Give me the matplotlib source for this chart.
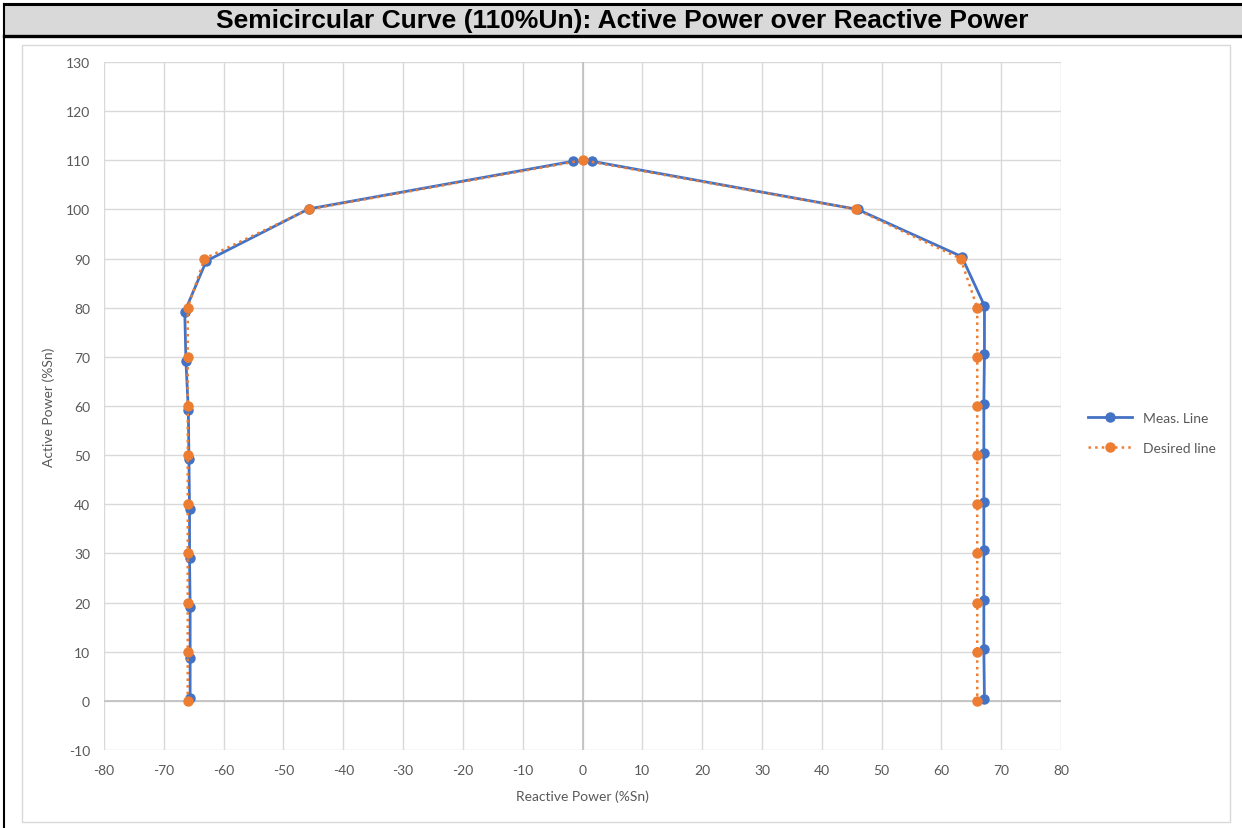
import matplotlib
matplotlib.use('Agg')
import matplotlib.pyplot as plt
from matplotlib.patches import Rectangle
from matplotlib.lines import Line2D

plt.rcParams['axes.unicode_minus'] = False

meas_q = [-65.6, -65.6, -65.6, -65.7, -65.7, -65.8, -65.9, -66.3, -66.5, -62.9, -45.8,
          -1.6, 1.6, 46.0, 63.4, 67.2, 67.2, 67.1, 67.1, 67.1, 67.1, 67.1, 67.1, 67.2]
meas_p = [0.5, 8.8, 19.0, 29.1, 39.1, 49.2, 59.1, 69.1, 79.2, 89.5, 100.1,
          109.8, 109.8, 100.0, 90.4, 80.4, 70.5, 60.5, 50.5, 40.5, 30.6, 20.5, 10.5, 0.3]

# Desired curve
des_q = [-66, -66, -66, -66, -66, -66, -66, -66, -66, -63.2, -45.8,
         0, 45.8, 63.2, 66, 66, 66, 66, 66, 66, 66, 66, 66]
des_p = [0, 10, 20, 30, 40, 50, 60, 70, 80, 90, 100,
         110, 100, 90, 80, 70, 60, 50, 40, 30, 20, 10, 0]

x_ticks = list(range(-80, 81, 10))
y_ticks = list(range(-10, 131, 10))

title = 'Semicircular Curve (110%Un): Active Power over Reactive Power'

W, H = 1242, 829
fig = plt.figure(figsize=(W / 100, H / 100), dpi=100)
fig.patch.set_facecolor('white')

def fx(px):
    return px / W

def fy(py):
    return 1 - py / H

# title bar and frame
fig.patches.append(Rectangle((fx(5), fy(37)), fx(1242) - fx(5), fy(5) - fy(37),
                             transform=fig.transFigure, facecolor='#d9d9d9',
                             edgecolor='none', zorder=0))
fig.lines.append(Line2D([fx(4), fx(1242)], [fy(5), fy(5)], transform=fig.transFigure,
                        color='black', lw=2.2))
fig.lines.append(Line2D([fx(4), fx(1242)], [fy(37), fy(37)], transform=fig.transFigure,
                        color='black', lw=2.4))
fig.lines.append(Line2D([fx(4), fx(4)], [fy(5), fy(829)], transform=fig.transFigure,
                        color='black', lw=1.5))
fig.text(fx(622), fy(21), title, ha='center', va='center', fontsize=19,
         fontweight='bold', family='Liberation Sans', color='black')

# chart area border
fig.patches.append(Rectangle((fx(22), fy(823)), fx(1230) - fx(22), fy(46) - fy(823),
                             transform=fig.transFigure, facecolor='none',
                             edgecolor='#d9d9d9', lw=1, zorder=0))

ax = fig.add_axes([fx(104), fy(751), fx(1061) - fx(104), fy(63) - fy(751)])
ax.set_xlim(-80, 80)
ax.set_ylim(-10, 130)
ax.set_xticks(x_ticks)
ax.set_yticks(y_ticks)
ax.grid(True, color='#d9d9d9', lw=1)
ax.set_axisbelow(True)
for s in ax.spines.values():
    s.set_visible(False)
ax.tick_params(length=0, colors='#595959', labelsize=10, pad=10)
for lab in ax.get_xticklabels() + ax.get_yticklabels():
    lab.set_family('Lato')
ax.axhline(0, color='#bfbfbf', lw=1.2, zorder=1)
ax.axvline(0, color='#bfbfbf', lw=1.2, zorder=1)

ax.plot(meas_q, meas_p, '-o', color='#4472C4', lw=2, ms=6.5, label='Meas. Line', zorder=3)
ax.plot(des_q, des_p, ':o', color='#ED7D31', lw=1.8, ms=6.5, label='Desired line', zorder=4)

ax.set_xlabel('Reactive Power (%Sn)', color='#595959', fontsize=10, family='Lato', labelpad=10)
ax.set_ylabel('Active Power (%Sn)', color='#595959', fontsize=10, family='Lato', labelpad=8)

leg = ax.legend(loc='center left', bbox_to_anchor=(1.015, 0.461), frameon=False,
                prop={'family': 'Lato', 'size': 10}, labelcolor='#595959',
                handlelength=3.2, labelspacing=1.25)

fig.savefig('out.png', dpi=100)
